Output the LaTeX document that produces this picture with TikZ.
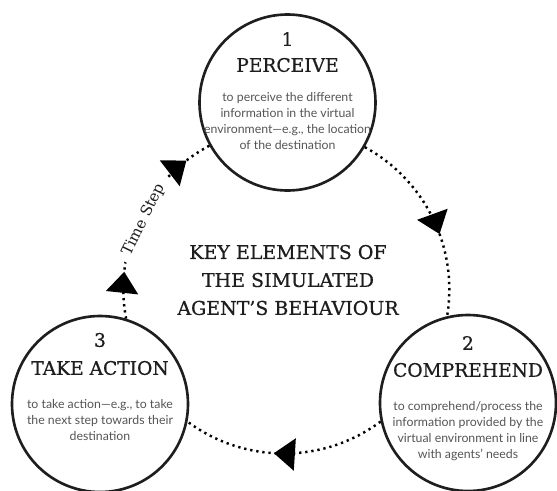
\documentclass[tikz,border=0pt]{standalone}
\usepackage{fontspec}
\setmainfont{DejaVu Serif}
\newfontfamily\slabfont[FakeBold=0.7]{DejaVu Serif}
\newfontfamily\bodyfont{Lato}
\usetikzlibrary{arrows.meta, decorations.markings, positioning}
\definecolor{InkBlack}{RGB}{30,30,30}
\definecolor{BodyGrey}{RGB}{85,85,85}

\tikzset{
    stage/.style={shape=circle, draw=InkBlack, line width=1.5pt, fill=white, minimum size=3.52cm, inner sep=0pt},
    stagenum/.style={font=\slabfont\fontsize{10.6}{12}\selectfont, text=InkBlack, inner sep=0pt},
    stagetitle/.style={font=\slabfont\fontsize{10.6}{12}\selectfont, text=InkBlack, inner sep=0pt},
    stagebody/.style={font=\bodyfont\fontsize{7}{9}\selectfont, text=BodyGrey, align=center, inner sep=0pt},
    flow/.style={line width=1.4pt, dash pattern=on 1.3pt off 2.2pt},
    tipat/.style={decoration={markings, mark=at position #1 with {\arrow{Triangle[length=0.42cm, width=0.64cm]}}}, postaction={decorate}}
}

\begin{document}
\begin{tikzpicture}
    \useasboundingbox (-5.7,-4.0) rectangle (5.44,5.8);

    % the three stages
    \node[stage] (perceive)   at ( 0.05, 3.75) {};
    \node[stage] (comprehend) at ( 3.66,-2.26) {};
    \node[stage] (takeaction) at (-3.70,-2.28) {};

    \node[stagenum]   (perceivenum)   at ([yshift=1.27cm]perceive.center)  {1};
    \node[stagetitle] (perceivetitle) at ([yshift=0.75cm]perceive.center)  {PERCEIVE};
    \node[stagebody]  (perceivebody)  at ([yshift=-0.37cm]perceive.center) {to perceive the different\\information in the virtual\\environment—e.g., the location\\of the destination};

    \node[stagenum]   (comprehendnum)   at ([yshift=1.2cm]comprehend.center)   {2};
    \node[stagetitle] (comprehendtitle) at ([yshift=0.66cm]comprehend.center)  {COMPREHEND};
    \node[stagebody]  (comprehendbody)  at ([yshift=-0.56cm]comprehend.center) {to comprehend/process the\\information provided by the\\virtual environment in line\\with agents’ needs};

    \node[stagenum]   (takeactionnum)   at ([yshift=1.28cm]takeaction.center)  {3};
    \node[stagetitle] (takeactiontitle) at ([yshift=0.72cm]takeaction.center)  {TAKE ACTION};
    \node[stagebody]  (takeactionbody)  at ([yshift=-0.32cm]takeaction.center) {to take action—e.g., to take\\the next step towards their\\destination};

    % centre title
    \node[font=\slabfont\fontsize{10.8}{15.9}\selectfont, text=InkBlack, align=center] (keyelements) at (0.06,0.2)
        {KEY ELEMENTS OF\\THE SIMULATED\\AGENT’S BEHAVIOUR};

    % dotted cycle between the stages
    \draw[flow, tipat=0.58]  (perceive.-30.9)   arc[start angle=61.4,  end angle=-10,    radius=3.24cm];
    \draw[flow, tipat=0.544] (comprehend.-168.8) arc[start angle=-53.4, end angle=-127.3, radius=3.24cm];
    \draw[flow, decoration={markings,
            mark=at position 0.227 with {\arrow{Triangle[length=0.42cm, width=0.64cm]}},
            mark=at position 0.86 with {\arrow{Triangle[length=0.42cm, width=0.64cm]}}},
          postaction={decorate}]
        (takeaction.73) arc[start angle=190.6, end angle=117.4, radius=3.24cm]
        node[pos=0.5, sloped, yshift=-2.5pt, fill=white, inner sep=4pt, font=\fontsize{8.6}{10}\selectfont, text=InkBlack] (timestep) {Time Step};
\end{tikzpicture}
\end{document}
